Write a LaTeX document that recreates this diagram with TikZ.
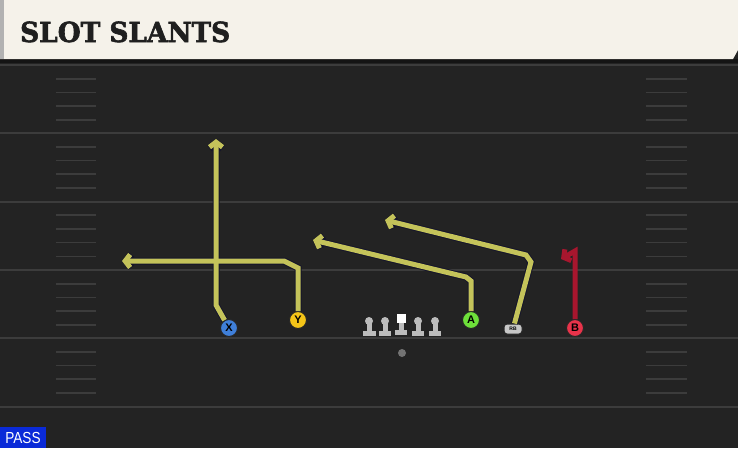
\documentclass[tikz,border=0pt]{standalone}
\usepackage{fontspec}
\setmainfont{DejaVu Serif}
\setsansfont{Liberation Sans}
\newfontfamily\titlefont[FakeBold=2.2]{DejaVu Serif Bold}
\usetikzlibrary{arrows.meta}
\definecolor{field}{HTML}{232323}
\definecolor{yardgray}{HTML}{3C3C3C}
\definecolor{cream}{HTML}{F5F2EA}
\definecolor{shadow}{HTML}{141414}
\definecolor{routeyel}{HTML}{C4C35A}
\definecolor{edgeblue}{HTML}{15152B}
\definecolor{routered}{HTML}{A8162E}
\definecolor{xblue}{HTML}{3F7FD9}
\definecolor{yyellow}{HTML}{F5C518}
\definecolor{agreen}{HTML}{6EE03A}
\definecolor{bred}{HTML}{E8334A}
\definecolor{linegray}{HTML}{BCBCBC}
\definecolor{passblue}{HTML}{0A2AD8}
\begin{document}
\begin{tikzpicture}[x=1pt,y=-1pt,
  yard/.style={draw=yardgray, line width=2pt},
  hashmark/.style={draw=yardgray, line width=1.6pt},
  player/.style={circle, draw=black!85, line width=1pt, minimum size=17pt, inner sep=0pt, text=black, font=\sffamily\bfseries\fontsize{11}{11}\selectfont},
  routeedge/.style={draw=edgeblue, line width=7pt, -{Straight Barb[length=5pt,width=13pt]}},
  route/.style={draw=routeyel, line width=5pt, -{Straight Barb[length=5pt,width=13pt]}},
  lineman/.style={fill=linegray}]
\useasboundingbox (0,0) rectangle (738,448);
\fill[field] (0,0) rectangle (738,448);
% field
\foreach \yl in {64.5,133,201.5,270,338,407}
  \draw[yard] (0,\yl) -- (738,\yl);
\foreach \yl in {65,133,201.5,270,338}
  \foreach \k in {1,2,3,4} {
    \draw[hashmark] (56,\yl+13.7*\k) -- (96,\yl+13.7*\k);
    \draw[hashmark] (646,\yl+13.7*\k) -- (687,\yl+13.7*\k);
  }
% header
\fill[shadow] (0,59) rectangle (738,63);
\fill[cream] (0,0) -- (738,0) -- (738,50) -- (733,59) -- (0,59) -- cycle;
\fill[black!30] (0,0) rectangle (4,59);
\node[anchor=base west, inner sep=0pt, text=black!88, font=\titlefont\fontsize{26}{26}\selectfont] (title) at (20,42) {\resizebox{210pt}{20.5pt}{SLOT SLANTS}};
% play type
\fill[passblue] (0,427) rectangle (46,448);
\node[text=white, inner sep=0pt, font=\sffamily\fontsize{16}{16}\selectfont] (play) at (23,438) {\scalebox{0.85}[1]{PASS}};
% line
\fill[lineman] (363,331) rectangle (376,336); \fill[lineman] (366.5,321) rectangle (371.5,331); \fill[lineman] (369,321) circle [radius=4];
\fill[lineman] (379,331) rectangle (391,336); \fill[lineman] (382.5,321) rectangle (387.5,331); \fill[lineman] (385,321) circle [radius=4];
\fill[lineman] (395,330) rectangle (407,335); \fill[lineman] (398.5,322) rectangle (403.5,330); \fill[white] (397,314) rectangle (406,323);
\fill[lineman] (412,331) rectangle (424,336); \fill[lineman] (415.5,321) rectangle (420.5,331); \fill[lineman] (418,321) circle [radius=4];
\fill[lineman] (429,331) rectangle (441,336); \fill[lineman] (432.5,321) rectangle (437.5,331); \fill[lineman] (435,321) circle [radius=4];
\fill[black!55] (402,353) circle [radius=4];
% players
\node[player, fill=xblue] (x) at (229,328) {X};
\node[player, fill=yyellow] (y) at (298,320) {Y};
\node[player, fill=agreen] (a) at (471,320) {A};
\node[player, fill=bred] (b) at (575,328) {B};
\node[draw=black!85, line width=1pt, fill=black!22, rounded corners=3pt, minimum width=18pt, minimum height=10pt, inner sep=0pt, font=\sffamily\bfseries\fontsize{5}{5}\selectfont] (rb) at (513,329) {RB};
% route points
\coordinate (xbend) at (216,305);
\coordinate (xend) at (216,139);
\coordinate (ybend) at (298,268);
\coordinate (ycut) at (284,261);
\coordinate (yend) at (122,261);
\coordinate (abend) at (471,281);
\coordinate (acut) at (466,277);
\coordinate (aend) at (313,240);
\coordinate (rbbend) at (531,262);
\coordinate (rbcut) at (526,255);
\coordinate (rbend) at (385,220);
\coordinate (btop) at (575,251);
\coordinate (bend) at (561,259);
% routes
\draw[routeedge] (x) -- (xbend) -- (xend);
\draw[routeedge] (y) -- (ybend) -- (ycut) -- (yend);
\draw[routeedge] (a) -- (abend) -- (acut) -- (aend);
\draw[routeedge] (rb) -- (rbbend) -- (rbcut) -- (rbend);
\draw[route] (x) -- (xbend) -- (xend);
\draw[route] (y) -- (ybend) -- (ycut) -- (yend);
\draw[route] (a) -- (abend) -- (acut) -- (aend);
\draw[route] (rb) -- (rbbend) -- (rbcut) -- (rbend);
\draw[route, draw=routered, line width=5pt] (b) -- (btop) -- (bend);
\end{tikzpicture}
\end{document}
